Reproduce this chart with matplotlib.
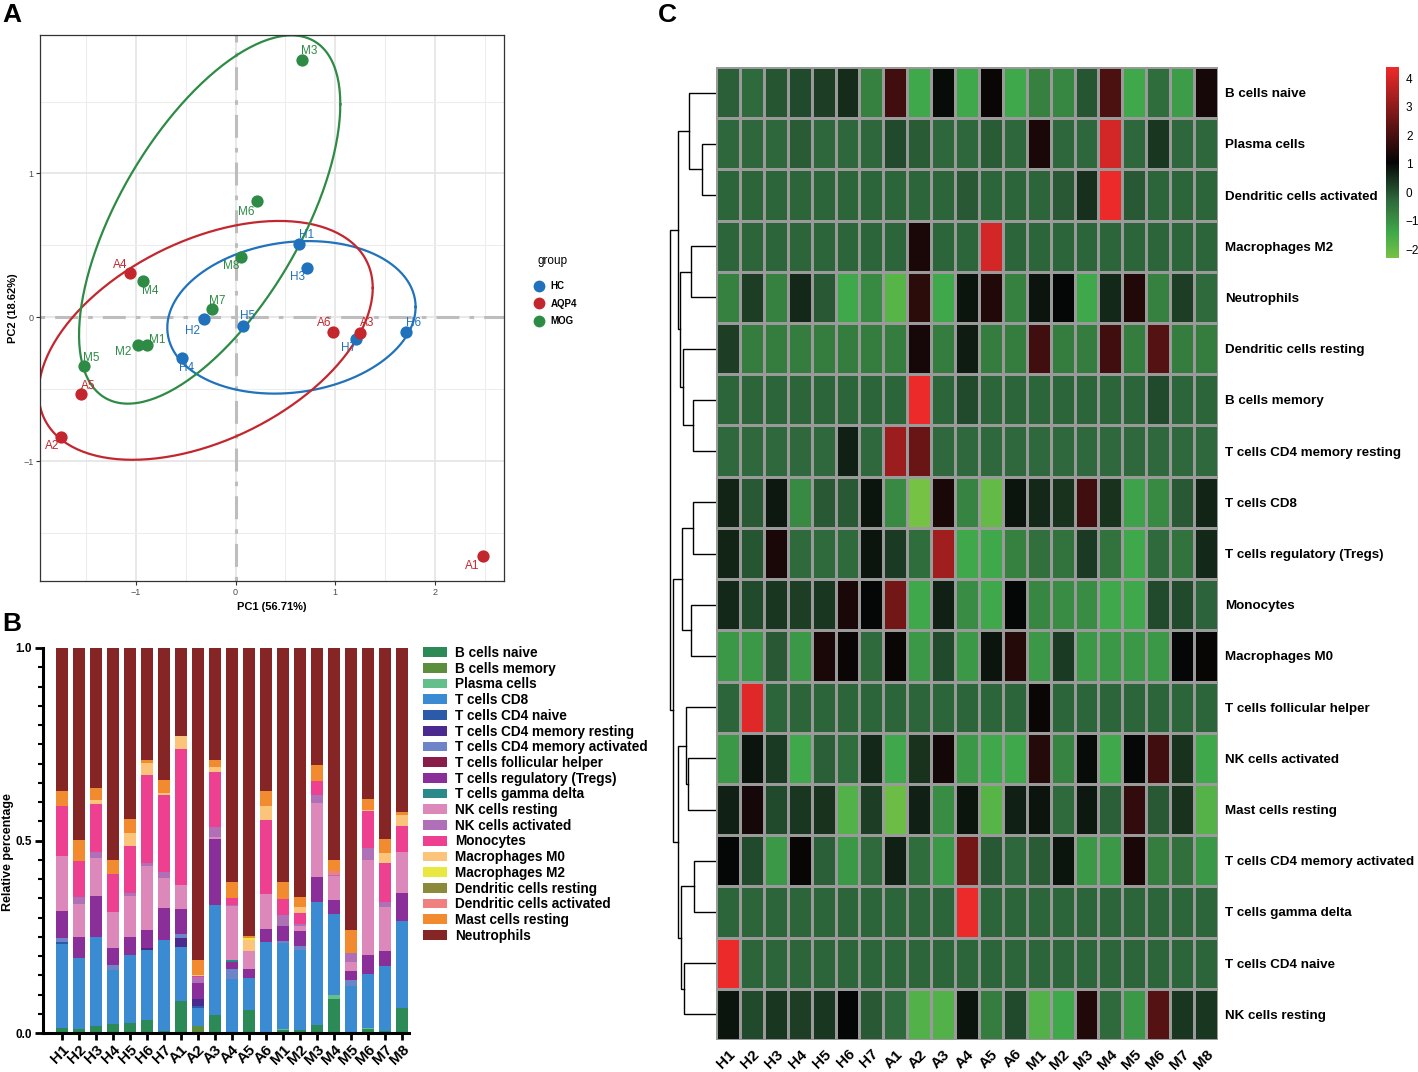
import numpy as np
import matplotlib
matplotlib.use("Agg")
import matplotlib.pyplot as plt
from matplotlib.colors import LinearSegmentedColormap, Normalize
from matplotlib.lines import Line2D
from matplotlib.patches import Patch
from matplotlib.cm import ScalarMappable

plt.rcParams['font.family'] = ['Liberation Sans', 'DejaVu Sans']

# ---------------- data ----------------
samples = ['H1', 'H2', 'H3', 'H4', 'H5', 'H6', 'H7',
           'A1', 'A2', 'A3', 'A4', 'A5', 'A6',
           'M1', 'M2', 'M3', 'M4', 'M5', 'M6', 'M7', 'M8']
groups = ['HC'] * 7 + ['AQP4'] * 6 + ['MOG'] * 8
group_order = ['HC', 'AQP4', 'MOG']

pc1 = [0.64, -0.32, 0.72, -0.54, 0.07, 1.71, 1.21,
       2.48, -1.75, 1.25, -1.06, -1.55, 0.98,
       -0.89, -0.98, 0.67, -0.93, -1.52, 0.21, -0.24, 0.05]
pc2 = [0.51, -0.01, 0.34, -0.28, -0.06, -0.10, -0.15,
       -1.66, -0.83, -0.11, 0.31, -0.53, -0.10,
       -0.19, -0.19, 1.79, 0.25, -0.34, 0.81, 0.06, 0.42]

# group ellipses: centre and shape matrix [sxx, syy, sxy]
ellipse_center = {'HC': (0.56, 0.0), 'AQP4': (-0.30, -0.16), 'MOG': (-0.26, 0.68)}
ellipse_shape = {'HC': (1.55, 0.281, 0.09), 'AQP4': (2.806, 0.689, 0.61),
                 'MOG': (1.716, 1.638, 1.05)}

cell_types = ['B cells naive', 'B cells memory', 'Plasma cells', 'T cells CD8',
              'T cells CD4 naive', 'T cells CD4 memory resting',
              'T cells CD4 memory activated', 'T cells follicular helper',
              'T cells regulatory (Tregs)', 'T cells gamma delta', 'NK cells resting',
              'NK cells activated', 'Monocytes', 'Macrophages M0', 'Macrophages M2',
              'Dendritic cells resting', 'Dendritic cells activated',
              'Mast cells resting', 'Neutrophils']

b_naive = [.013, .010, .019, .024, .026, .033, .006, .082, 0, .048, 0, .061, 0,
           .007, .009, .022, .088, .003, .011, .004, .065]
b_memory = [0, 0, 0, 0, 0, 0, 0, 0, .019, 0, 0, 0, 0, 0, 0, 0, 0, 0, 0, 0, 0]
plasma = [0, 0, 0, 0, 0, 0, 0, 0, 0, 0, 0, 0, 0, .004, 0, 0, .010, 0, .003, 0, 0]
t_cd8 = [.219, .184, .230, .139, .177, .182, .236, .140, .046, .285, .139, .082, .236,
         .223, .206, .318, .211, .118, .139, .171, .227]
t_cd4_naive = [.004, 0, 0, 0, 0, 0, 0, 0, .004, 0, 0, 0, 0, 0, 0, 0, 0, 0, 0, 0, 0]
t_cd4_mem_rest = [0, 0, 0, 0, 0, .006, 0, .024, .019, 0, 0, 0, 0, 0, 0, 0, 0, 0, 0, 0, 0]
t_cd4_mem_act = [.011, 0, 0, .015, 0, 0, 0, .011, 0, 0, .026, 0, 0,
                 .004, .012, 0, 0, .017, 0, 0, 0]
t_fh = [0] * 21
t_reg = [.069, .056, .106, .043, .046, .048, .082, .064, .042, .171, .020, .022, .035,
         .041, .039, .066, .037, .024, .050, .039, .072]
t_gd = [0, 0, 0, 0, 0, 0, 0, 0, 0, 0, .004, 0, 0, 0, 0, 0, 0, 0, 0, 0, 0]
nk_rest = [.143, .085, .100, .093, .107, .165, .078, .063, 0, .005, .140, .049, .090,
           0, .013, .192, .061, .023, .247, .113, .106]
nk_act = [.002, .019, .015, 0, .007, .007, .015, 0, .016, .025, .003, 0, 0,
          .027, .005, .020, .004, .022, .030, .014, 0]
monocytes = [.128, .094, .126, .100, .123, .231, .200, .353, .003, .143, .018, 0, .191,
             .042, .028, .036, 0, 0, .097, .101, .068]
mac_m0 = [0, 0, .010, 0, .033, .029, .006, .032, .003, .013, 0, .027, .036,
          0, .015, 0, 0, 0, .003, .026, .029]
mac_m2 = [0, 0, 0, 0, 0, 0, 0, 0, 0, 0, 0, .006, 0, 0, 0, 0, 0, 0, 0, 0, 0]
dc_rest = [0] * 21
dc_act = [0, 0, 0, 0, 0, 0, 0, 0, 0, 0, 0, 0, 0, 0, 0, 0, .009, 0, 0, 0, 0]
mast_rest = [.041, .054, .030, .035, .036, .010, .033, 0, .039, .020, .043, .004, .039,
             .044, .027, .043, .029, .061, .029, .037, .008]
neutrophils = [.371, .498, .364, .552, .444, .290, .344, .229, .810, .290, .606, .749, .372,
               .608, .647, .303, .552, .732, .391, .495, .427]

bar_series = [b_naive, b_memory, plasma, t_cd8, t_cd4_naive, t_cd4_mem_rest, t_cd4_mem_act,
              t_fh, t_reg, t_gd, nk_rest, nk_act, monocytes, mac_m0, mac_m2, dc_rest,
              dc_act, mast_rest, neutrophils]

heat_rows = ['B cells naive', 'Plasma cells', 'Dendritic cells activated', 'Macrophages M2',
             'Neutrophils', 'Dendritic cells resting', 'B cells memory',
             'T cells CD4 memory resting', 'T cells CD8', 'T cells regulatory (Tregs)',
             'Monocytes', 'Macrophages M0', 'T cells follicular helper', 'NK cells activated',
             'Mast cells resting', 'T cells CD4 memory activated', 'T cells gamma delta',
             'T cells CD4 naive', 'NK cells resting']

z_b_naive = [-0.15, -0.3, 0.0, 0.15, 0.3, 0.55, -0.7, 1.9, -1.4, 0.95, -1.4, 1.15, -1.4,
             -0.7, -0.8, 0.0, 2.05, -1.4, -0.35, -1.2, 1.3]
z_plasma = [-0.25, -0.25, -0.25, -0.1, -0.25, -0.25, -0.25, 0.15, -0.1, -0.25, -0.25, -0.1, -0.25,
            1.35, -0.25, -0.25, 4.0, -0.25, 0.4, -0.25, -0.25]
z_dc_act = [-0.22, -0.22, -0.22, -0.22, -0.22, -0.22, -0.22, -0.22, -0.22, -0.22, -0.05, -0.22, -0.22,
            -0.22, -0.05, 0.5, 4.36, -0.05, -0.22, -0.22, -0.22]
z_mac_m2 = [-0.22, -0.22, -0.22, -0.22, -0.22, -0.22, -0.22, -0.22, 1.35, -0.22, -0.22, 4.0, -0.22,
            -0.22, -0.22, -0.22, -0.22, -0.22, -0.22, -0.22, -0.22]
z_neutro = [-0.7, 0.3, -0.7, 0.6, -0.05, -1.4, -0.85, -1.8, 1.6, -1.4, 0.85, 1.45, -0.7,
            0.85, 1.05, -1.4, 0.6, 1.45, -0.7, 0.3, -0.3]
z_dc_rest = [0.3, -0.65, -0.65, -0.65, -0.65, -0.65, -0.65, -0.65, 1.3, -0.65, 0.75, -0.65, -0.65,
             1.9, -0.65, -0.65, 1.9, -0.65, 2.2, -0.65, -0.65]
z_b_mem = [-0.22, -0.22, -0.22, -0.22, -0.22, -0.22, -0.22, -0.22, 4.36, -0.22, 0.15, -0.22, -0.22,
           -0.22, -0.22, -0.22, -0.22, -0.22, 0.15, -0.22, -0.22]
z_cd4_mem_rest = [-0.27, -0.27, -0.27, -0.27, -0.27, 0.7, -0.27, 3.2, 2.5, -0.27, -0.27, -0.27, -0.27,
                  -0.27, -0.27, -0.27, -0.27, -0.27, -0.27, -0.27, -0.27]
z_cd8 = [0.65, -0.05, 0.8, -0.85, -0.05, -0.05, 0.85, -0.85, -2.3, 1.35, -0.75, -2.0, 0.85,
         0.6, 0.45, 1.9, 0.45, -1.3, -0.85, -0.05, 0.65]
z_treg = [0.65, 0.0, 1.35, -0.3, -0.3, -0.3, 0.85, 0.35, -0.35, 3.3, -1.4, -1.4, -0.7,
          -0.4, -0.45, 0.35, -0.45, -1.4, -0.3, -0.45, 0.6]
z_mono = [0.6, 0.15, 0.4, 0.3, 0.4, 1.35, 1.05, 2.6, -1.4, 0.7, -0.9, -1.4, 1.05,
          -0.8, -0.9, -0.9, -1.4, -1.4, 0.15, 0.15, -0.2]
z_m0 = [-1.1, -1.1, -0.05, -1.1, 1.35, 1.15, -0.3, 1.15, -1.1, 0.15, -1.1, 0.85, 1.5,
        -1.1, 0.35, -1.1, -1.1, -1.1, -1.1, 1.05, 1.1]
z_tfh = [-0.22, 4.2, -0.22, -0.22, -0.22, -0.22, -0.22, -0.22, -0.22, -0.22, -0.22, -0.22, -0.22,
         1.15, -0.22, -0.22, -0.22, -0.22, -0.22, -0.22, -0.22]
z_nk_act = [-1.1, 0.85, 0.35, -1.4, -0.15, -0.35, 0.6, -1.4, 0.45, 1.25, -1.1, -1.4, -1.4,
            1.5, -0.75, 0.95, -1.4, 1.0, 1.9, 0.45, -1.4]
z_mast = [0.7, 1.3, 0.15, 0.4, 0.45, -1.7, 0.3, -2.1, 0.7, -0.9, 0.85, -1.8, 0.7,
          0.85, -0.3, 0.8, -0.15, 1.7, -0.05, 0.45, -1.75]
z_cd4_mem_act = [1.05, 0.15, -1.1, 1.1, -0.15, -1.1, -0.3, 0.7, -0.35, -1.1, 2.6, -0.05, -0.25,
                 -0.1, 0.85, -1.1, -1.1, 1.35, -0.65, -0.4, -1.1]
z_gd = [-0.22, -0.22, -0.22, -0.22, -0.22, -0.22, -0.22, -0.22, -0.22, -0.22, 4.36, -0.22, -0.22,
        -0.22, -0.22, -0.22, -0.22, -0.22, -0.22, -0.22, -0.22]
z_cd4_naive = [4.36, -0.22, -0.22, -0.22, -0.22, -0.22, -0.22, -0.22, -0.22, -0.22, -0.22, -0.22, -0.22,
               -0.22, -0.22, -0.22, -0.22, -0.22, -0.22, -0.22, -0.22]
z_nk_rest = [0.85, 0.15, 0.4, 0.3, 0.4, 1.05, -0.05, -0.3, -1.7, -1.7, 0.85, -0.65, 0.15,
             -1.7, -1.4, 1.45, -0.3, -1.1, 2.2, 0.4, 0.4]

heat_values = [z_b_naive, z_plasma, z_dc_act, z_mac_m2, z_neutro, z_dc_rest, z_b_mem,
               z_cd4_mem_rest, z_cd8, z_treg, z_mono, z_m0, z_tfh, z_nk_act, z_mast,
               z_cd4_mem_act, z_gd, z_cd4_naive, z_nk_rest]

# dendrogram merges (left, right, height); leaves are heatmap rows 0..18
dendro_merges = [(1, 2, 14), (0, 19, 26), (3, 4, 24), (6, 7, 23), (5, 22, 32), (21, 23, 35),
                 (20, 24, 37), (8, 9, 23), (10, 11, 24), (26, 27, 33), (13, 14, 27),
                 (12, 29, 29), (15, 16, 22), (17, 18, 31), (31, 32, 34), (30, 33, 37),
                 (28, 34, 42), (25, 35, 45)]

# ---------------- styles ----------------
W, H = 1418, 1072
fig = plt.figure(figsize=(W / 100, H / 100), dpi=100)


def px_axes(l, t, r, b):
    return fig.add_axes([l / W, 1 - b / H, (r - l) / W, (b - t) / H])


group_colors = {'HC': '#1f72bb', 'AQP4': '#c4262e', 'MOG': '#2e8b45'}
label_offsets = {  # label placement (pixels, like ggrepel output)
    'M3': (7, -9), 'M6': (-10, 11), 'H1': (7, -9), 'H3': (-10, 9), 'M8': (-9, 9),
    'A4': (-10, -8), 'M4': (7, 10), 'M7': (6, -8), 'H2': (-11, 12), 'H5': (5, -10),
    'A6': (-9, -9), 'A3': (7, -10), 'H7': (-8, 9), 'H6': (7, -9), 'M2': (-15, 7),
    'M1': (10, -5), 'H4': (5, 10), 'M5': (7, -8), 'A5': (7, -8), 'A2': (-9, 9),
    'A1': (-11, 10)}

# ---------------- Panel A: PCA ----------------
axA = px_axes(40, 35, 504, 581)
x = np.array(pc1)
y = np.array(pc2)
xr = x.max() - x.min()
yr = y.max() - y.min()
axA.set_xlim(x.min() - 0.05 * xr, x.max() + 0.05 * xr)
axA.set_ylim(y.min() - 0.05 * yr, y.max() + 0.05 * yr)

axA.set_xticks([-1, 0, 1, 2])
axA.set_yticks([-1, 0, 1])
axA.set_xticks([-1.5, -0.5, 0.5, 1.5, 2.5], minor=True)
axA.set_yticks([-1.5, -0.5, 0.5, 1.5], minor=True)
axA.grid(True, which='major', color='#e6e6e6', lw=1.3, zorder=0)
axA.grid(True, which='minor', color='#ededed', lw=0.8, zorder=0)
axA.set_axisbelow(True)
axA.tick_params(which='minor', length=0)
axA.tick_params(which='major', length=2.8, width=0.8, color='#333333',
                labelsize=6.5, labelcolor='#4d4d4d', pad=2)
axA.set_xticklabels(['\u22121', '0', '1', '2'])
axA.set_yticklabels(['\u22121', '0', '1'])
for s in axA.spines.values():
    s.set_color('#333333')
    s.set_linewidth(0.9)

dash = (1.5, 3.3, 7.5, 3.3)
axA.axhline(0, color='#bdbdbd', lw=2.2, dashes=dash, zorder=1)
axA.axvline(0, color='#bdbdbd', lw=2.2, dashes=dash, zorder=1)

theta = np.linspace(0, 2 * np.pi, 240)
circle = np.column_stack([np.cos(theta), np.sin(theta)])
for g in group_order:
    sxx, syy, sxy = ellipse_shape[g]
    L = np.linalg.cholesky(np.array([[sxx, sxy], [sxy, syy]]))
    ell = np.array(ellipse_center[g]) + circle @ L.T
    axA.plot(ell[:, 0], ell[:, 1], color=group_colors[g], lw=1.6, zorder=2)

garr = np.array(groups)
for g in group_order:
    m = garr == g
    axA.scatter(x[m], y[m], s=78, color=group_colors[g], zorder=4, linewidths=0)

for s, xi, yi, g in zip(samples, pc1, pc2, groups):
    dx, dy = label_offsets[s]
    axA.annotate(s, (xi, yi), xytext=(dx * 0.72, -dy * 0.72), textcoords='offset points',
                 ha='center', va='center', fontsize=8.5, color=group_colors[g], zorder=5)

axA.set_xlabel('PC1 (56.71%)', fontsize=8, fontweight='bold', labelpad=4)
axA.set_ylabel('PC2 (18.62%)', fontsize=8, fontweight='bold', labelpad=4)

fig.text(537 / W, 1 - 261 / H, 'group', fontsize=8.5, va='center', ha='left')
handles = [Line2D([], [], marker='o', ls='', markersize=8.5, color=group_colors[g],
                  markeredgewidth=0) for g in group_order]
fig.legend(handles, group_order, loc='upper left',
           bbox_to_anchor=(533 / W, 1 - 281 / H), frameon=False,
           prop={'size': 7, 'weight': 'bold'},
           labelspacing=0.78, handletextpad=0.6, handlelength=1.2,
           borderaxespad=0, borderpad=0)

# ---------------- Panel B: stacked bars ----------------
bar_colors = ['#2b8a55', '#5b8f3e', '#63c08a', '#3a8bd2', '#2b5aa8', '#4b2a90', '#6d85c8',
              '#8a1c4a', '#8a2f9a', '#2a8a8a', '#dd88bb', '#b070b8', '#ee4090', '#fcc47a',
              '#e8e840', '#8a8a3a', '#f08080', '#f28a30', '#862526']

axB = px_axes(43, 648, 412, 1033)
vals = np.array(bar_series, dtype=float)
vals = vals / vals.sum(axis=0, keepdims=True)
xpos = np.arange(len(samples))
bottom = np.zeros(len(samples))
for ct, row, col in zip(cell_types, vals, bar_colors):
    axB.bar(xpos, row, bottom=bottom, width=0.72, color=col, linewidth=0, label=ct)
    bottom += row
axB.set_xlim(-1.12, 20.6)
axB.set_ylim(0, 1.0)
axB.set_yticks([0, 0.5, 1.0])
axB.set_yticklabels(['0.0', '0.5', '1.0'])
axB.set_yticks(np.arange(0, 1.0001, 0.05), minor=True)
axB.set_xticks(xpos)
axB.set_xticklabels(samples, rotation=45, ha='right', va='top', rotation_mode='anchor',
                    fontsize=11, fontweight='bold')
for lbl in axB.get_yticklabels():
    lbl.set_fontweight('bold')
axB.tick_params(axis='y', which='major', length=6, width=2, labelsize=8.5, pad=2)
axB.tick_params(axis='y', which='minor', length=3.5, width=1.5)
axB.tick_params(axis='x', which='major', length=5, width=2, pad=2)
axB.spines['top'].set_visible(False)
axB.spines['right'].set_visible(False)
axB.spines['left'].set_linewidth(2.2)
axB.spines['bottom'].set_linewidth(2.2)
axB.spines['bottom'].set_bounds(-1.12, 20.4)
axB.set_ylabel('Relative percentage', fontsize=9, fontweight='bold')
axB.yaxis.set_label_coords(-29 / 369, 0.47)

legB_handles = [Patch(facecolor=c, edgecolor='none') for c in bar_colors]
fig.legend(legB_handles, cell_types, loc='upper left', bbox_to_anchor=(423 / W, 1 - 646 / H),
           frameon=False, prop={'size': 9.8, 'weight': 'bold'}, handlelength=1.75,
           handleheight=0.72, labelspacing=0.125, handletextpad=0.6,
           borderaxespad=0, borderpad=0)

# ---------------- Panel C: heatmap ----------------
cmap = LinearSegmentedColormap.from_list(
    'gkr', [(0.0, '#76c244'), (0.134, '#3ea84a'), (0.239, '#368040'), (0.31, '#2d653b'),
            (0.5, '#050505'), (1.0, '#ee2a2a')])
norm = Normalize(vmin=-2.3, vmax=4.4)

axC = px_axes(716, 67, 1218, 1040)
Z = np.array(heat_values)
axC.pcolormesh(np.arange(Z.shape[1] + 1), np.arange(Z.shape[0] + 1), Z, cmap=cmap, norm=norm,
               edgecolors='#9a9a9a', linewidth=1.0)
axC.set_xlim(0, Z.shape[1])
axC.set_ylim(Z.shape[0], 0)
for s in axC.spines.values():
    s.set_visible(False)
axC.set_xticks(np.arange(Z.shape[1]) + 0.5)
axC.set_xticklabels(samples, rotation=45, ha='right', va='top', rotation_mode='anchor',
                    fontsize=11, fontweight='bold')
axC.yaxis.tick_right()
axC.set_yticks(np.arange(Z.shape[0]) + 0.5)
axC.set_yticklabels(heat_rows, fontsize=9.6, fontweight='bold')
axC.tick_params(axis='both', length=0)
axC.tick_params(axis='y', pad=5)
axC.tick_params(axis='x', pad=5)

# dendrogram
axD = px_axes(668, 67, 716, 1040)
n_rows = Z.shape[0]
pos = {i: i + 0.5 for i in range(n_rows)}
hgt = {i: 0.0 for i in range(n_rows)}
for k, (a, b, h) in enumerate(dendro_merges):
    node = n_rows + k
    axD.plot([hgt[a], h, h, hgt[b]], [pos[a], pos[a], pos[b], pos[b]], color='black', lw=1.0,
             solid_joinstyle='miter')
    pos[node] = (pos[a] + pos[b]) / 2
    hgt[node] = h
axD.set_xlim(47, 0)
axD.set_ylim(n_rows, 0)
axD.axis('off')

# colorbar
axCb = px_axes(1386, 67, 1399, 258)
cb = fig.colorbar(ScalarMappable(norm=norm, cmap=cmap), cax=axCb, ticks=[-2, -1, 0, 1, 2, 3, 4])
cb.outline.set_visible(False)
cb.ax.tick_params(length=0, labelsize=8.5, pad=5)
cb.ax.set_yticklabels(['\u22122', '\u22121', '0', '1', '2', '3', '4'])

# panel letters
fig.text(2 / W, 1 - 15 / H, 'A', fontsize=19, fontweight='bold', va='center', ha='left')
fig.text(2 / W, 1 - 624 / H, 'B', fontsize=19, fontweight='bold', va='center', ha='left')
fig.text(658 / W, 1 - 15 / H, 'C', fontsize=19, fontweight='bold', va='center', ha='left')

fig.savefig('out.png', dpi=100)
